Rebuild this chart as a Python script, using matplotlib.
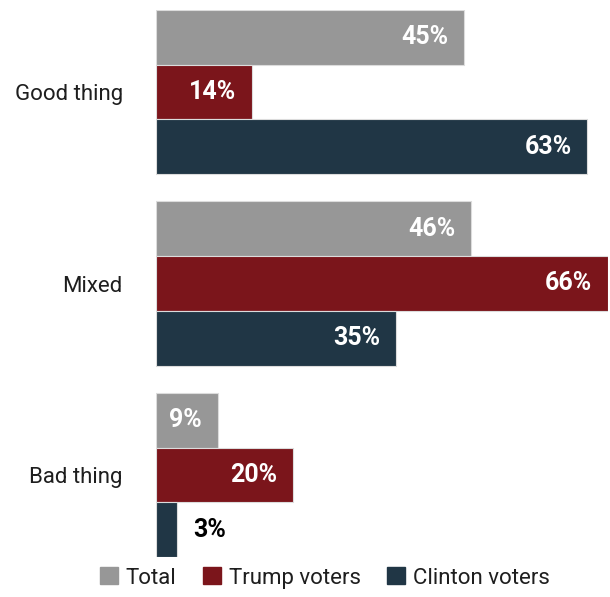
import matplotlib
matplotlib.use("Agg")
import matplotlib.pyplot as plt
from matplotlib.patches import Patch

categories = ["Good thing", "Mixed", "Bad thing"]
series = ["Total", "Trump voters", "Clinton voters"]
total = [45, 46, 9]
trump = [14, 66, 20]
clinton = [63, 35, 3]
colors = ["#979797", "#7b151b", "#203645"]

plt.rcParams["font.family"] = ["Roboto", "DejaVu Sans"]

fig = plt.figure(figsize=(6.10, 5.97), dpi=100)
ax = fig.add_axes([156 / 610, 40 / 597, 452 / 610, 547 / 597])

gap = 3.5
for j, vals in enumerate([total, trump, clinton]):
    for i, v in enumerate(vals):
        y = i * gap + (j - 1)
        ax.barh(y, v, height=1.0, color=colors[j], edgecolor="#dcdcdc", linewidth=0.8)
        if v >= 8:
            ax.text(v - 2.3, y, f"{v}%", ha="right", va="center",
                    color="white", fontsize=18, fontweight="bold")
        else:
            ax.text(v + 2.5, y, f"{v}%", ha="left", va="center",
                    color="black", fontsize=18, fontweight="bold")

ax.set_xlim(0, 66)
ax.set_ylim(2 * gap + 1.5, -1.5)
ax.set_yticks([i * gap for i in range(len(categories))])
ax.set_yticklabels(categories, fontsize=16, color="#1e1e1e")
ax.tick_params(axis="y", length=0, pad=24)
ax.set_xticks([])
for s in ax.spines.values():
    s.set_visible(False)

handles = [Patch(color=c, label=s) for c, s in zip(colors, series)]
fig.legend(handles=handles, loc="center", bbox_to_anchor=(325 / 610, 1 - 578 / 597),
           ncol=3, frameon=False, fontsize=16, handlelength=0.8, handleheight=0.8,
           handletextpad=0.35, columnspacing=1.2, borderaxespad=0, labelcolor="#1e1e1e")

fig.savefig("out.png", dpi=100)
